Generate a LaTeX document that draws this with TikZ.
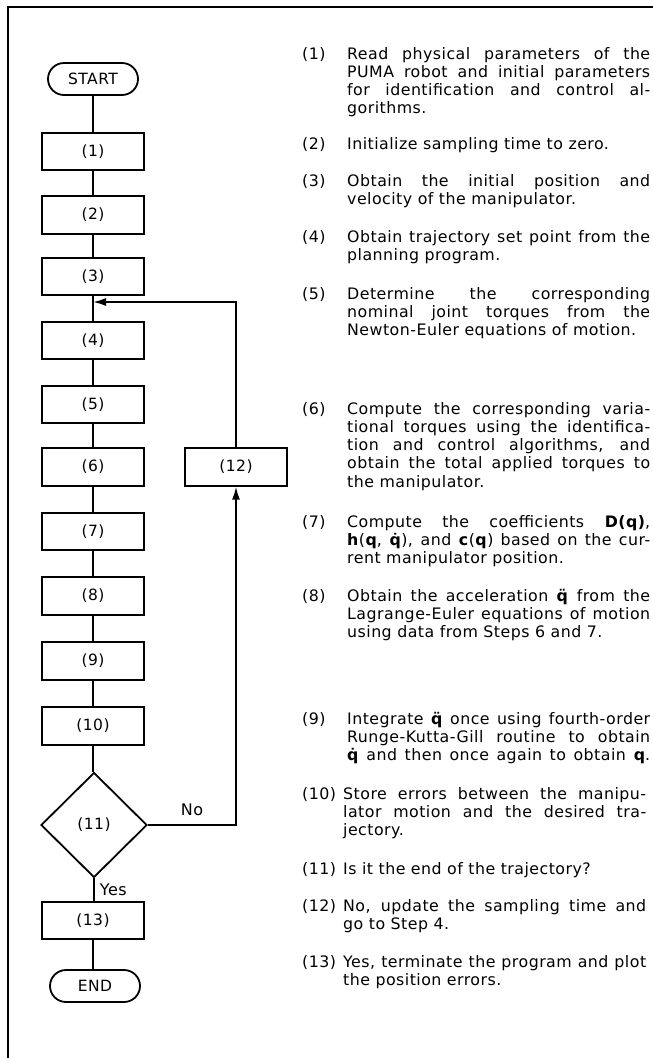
\documentclass[tikz,border=0pt]{standalone}
\usepackage{fontspec}
\usepackage{graphicx}
\setmainfont{DejaVu Sans}[LetterSpace=3]
\usetikzlibrary{arrows.meta,shapes.geometric}
\newlength\flw
\newcommand\fl[1]{\settowidth\flw{#1}%
  \ifdim\flw>303pt\resizebox{303pt}{\height}{#1}%
  \else{\spaceskip=\fontdimen2\font plus 1fil\makebox[303pt][s]{#1}}\fi}
\newcommand\bq{\textbf{q}}
\newcommand\qdd{\ooalign{\textbf{q}\cr\hfil\textbf{\char"00A8}\hfil\cr}}
\newcommand\qd{\ooalign{\textbf{q}\cr\hfil\textbf{\char"02D9}\hfil\cr}}
\newcommand\desc[3]{\makebox[#1][l]{#2}\parbox[t]{303pt}{\raggedright #3}}
\tikzset{
  ln/.style={line width=1.8pt},
  arr/.style={line width=1.8pt, -{Latex[length=13pt,width=8pt]}},
  stepbox/.style={draw, line width=1.8pt, minimum width=102pt, minimum height=37.5pt, inner sep=0pt, font=\fontsize{15.5}{16}\selectfont},
  term/.style={draw, line width=1.8pt, rounded corners=16pt, minimum width=90pt, minimum height=32pt, inner sep=0pt, font=\fontsize{15.5}{16}\selectfont},
  decision/.style={diamond, draw, line width=1.8pt, minimum width=106pt, minimum height=105pt, inner sep=0pt, font=\fontsize{15.5}{16}\selectfont},
  lbl/.style={font=\fontsize{16}{16}\selectfont, inner sep=0pt},
  para/.style={anchor=base west, inner sep=0pt, font=\fontsize{15.8}{18.3}\selectfont}
}
\begin{document}
\begin{tikzpicture}[x=1pt,y=-1pt]
\useasboundingbox (0,0) rectangle (653,1058);
% frame
\draw[line width=1.5pt] (8,1058) -- (8,7) -- (653,7);
% flowchart
\node[term] (start) at (93,79) {START};
\node[stepbox] (b1) at (93,151.5) {(1)};
\node[stepbox] (b2) at (93,215) {(2)};
\node[stepbox] (b3) at (93,276.5) {(3)};
\node[stepbox] (b4) at (93,340.5) {(4)};
\node[stepbox] (b5) at (93,404.5) {(5)};
\node[stepbox] (b6) at (93,467) {(6)};
\node[stepbox] (b7) at (93,531.5) {(7)};
\node[stepbox] (b8) at (93,596) {(8)};
\node[stepbox] (b9) at (93,661) {(9)};
\node[stepbox] (b10) at (93,726) {(10)};
\node[decision] (d11) at (94,825) {(11)};
\node[stepbox] (b13) at (93,920.5) {(13)};
\node[term] (end) at (95,986) {END};
\node[stepbox] (b12) at (236,467) {(12)};
\coordinate (j) at (93,302);
\draw[ln] (start) -- (b1);
\draw[ln] (b1) -- (b2);
\draw[ln] (b2) -- (b3);
\draw[ln] (b3) -- (b4);
\draw[ln] (b4) -- (b5);
\draw[ln] (b5) -- (b6);
\draw[ln] (b6) -- (b7);
\draw[ln] (b7) -- (b8);
\draw[ln] (b8) -- (b9);
\draw[ln] (b9) -- (b10);
\draw[ln] (b10) -- (d11.north -| b10);
\draw[ln] (d11.south) -- node[lbl, right=5pt] {Yes} (d11.south |- b13.north);
\draw[ln] (b13) -- (b13.south |- end.north);
\draw[arr] (d11.east) -- node[lbl, above=8pt] {No} (d11.east -| b12) -- (b12.south);
\draw[arr] (b12.north) |- (j);
% descriptions
\node[para] (t1) at (302,59) {\desc{45pt}{(1)}{\fl{Read physical parameters of the}\\\fl{PUMA robot and initial parameters}\\\fl{for identification and control al-}\\gorithms.}};
\node[para] (t2) at (302,149) {\desc{45pt}{(2)}{Initialize sampling time to zero.}};
\node[para] (t3) at (302,186) {\desc{45pt}{(3)}{\fl{Obtain the initial position and}\\velocity of the manipulator.}};
\node[para] (t4) at (302,242) {\desc{45pt}{(4)}{\fl{Obtain trajectory set point from the}\\planning program.}};
\node[para] (t5) at (302,299) {\desc{45pt}{(5)}{\fl{Determine the corresponding}\\\fl{nominal joint torques from the}\\Newton-Euler equations of motion.}};
\node[para] (t6) at (302,414) {\desc{45pt}{(6)}{\fl{Compute the corresponding varia-}\\\fl{tional torques using the identifica-}\\\fl{tion and control algorithms, and}\\\fl{obtain the total applied torques to}\\the manipulator.}};
\node[para] (t7) at (302,527) {\desc{45pt}{(7)}{\fl{Compute the coefficients \textbf{D(q)},}\\\fl{\textbf{h}(\bq, \qd), and \textbf{c}(\bq) based on the cur-}\\rent manipulator position.}};
\node[para] (t8) at (302,601) {\desc{45pt}{(8)}{\fl{Obtain the acceleration \qdd{} from the}\\\fl{Lagrange-Euler equations of motion}\\using data from Steps 6 and 7.}};
\node[para] (t9) at (302,724) {\desc{45pt}{(9)}{\fl{Integrate \qdd{} once using fourth-order}\\\fl{Runge-Kutta-Gill routine to obtain}\\\fl{\qd{} and then once again to obtain \bq.}}};
\node[para] (t10) at (302,799) {\desc{41pt}{(10)}{\fl{Store errors between the manipu-}\\\fl{lator motion and the desired tra-}\\jectory.}};
\node[para] (t11) at (302,874) {\desc{41pt}{(11)}{Is it the end of the trajectory?}};
\node[para] (t12) at (302,911) {\desc{41pt}{(12)}{\fl{No, update the sampling time and}\\go to Step 4.}};
\node[para] (t13) at (302,967) {\desc{41pt}{(13)}{\fl{Yes, terminate the program and plot}\\the position errors.}};
\end{tikzpicture}
\end{document}
